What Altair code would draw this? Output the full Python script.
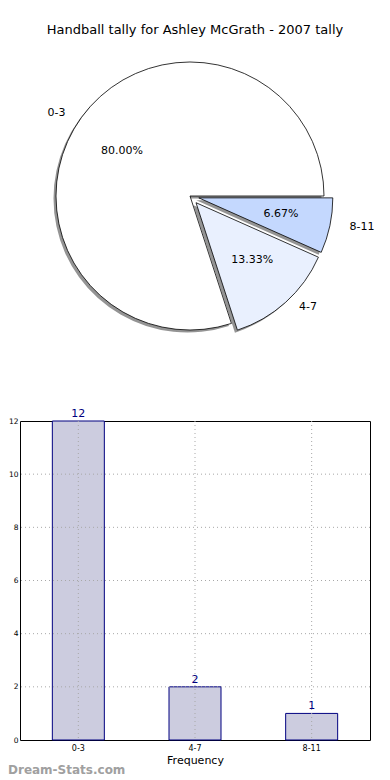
import altair as alt
import pandas as pd

title_text = "Handball tally for Ashley McGrath - 2007 tally"
cats = ["0-3", "4-7", "8-11"]
counts = [12, 2, 1]
pct_labels = ["80.00%", "13.33%", "6.67%"]
pie_colors = ["#ffffff", "#e9f0fe", "#c4d8fe"]
y_ticks = [0, 2, 4, 6, 8, 10, 12]

df = pd.DataFrame({"cat": cats, "count": counts, "pct": pct_labels, "order": [0, 1, 2]})
grid_df = pd.DataFrame({"v": y_ticks[1:-1]})

FONT = "DejaVu Sans"
CX, CY = 170, -225
RX, RY = 140, 128
GRID = "#a8a8a8"

pie_base = (
    alt.Chart(df)
    .transform_window(cum="sum(count)", sort=[alt.SortField("order")], frame=[None, 0])
    .transform_joinaggregate(total="sum(count)")
    .transform_calculate(
        a0="(datum.cum - datum.count) / datum.total * 2 * PI",
        a1="datum.cum / datum.total * 2 * PI",
    )
    .transform_calculate(am="(datum.a0 + datum.a1) / 2",
                         ex="datum.cat == '0-3' ? 0 : 9")
    .transform_calculate(
        cx=f"{CX} + datum.ex * cos(datum.am)",
        cy=f"{CY} - datum.ex * sin(datum.am)",
        t0="PI / 2 - datum.a0",
        t1="PI / 2 - datum.a1",
    )
    .transform_calculate(
        lx=f"datum.cx + 1.1 * {RX} * cos(datum.am)",
        ly=f"datum.cy - 1.1 * {RY} * sin(datum.am)",
        px=f"datum.cx + 0.6 * {RX} * cos(datum.am)",
        py=f"datum.cy - 0.6 * {RY} * sin(datum.am)",
    )
)

xc = alt.X("cx:Q", scale=None, axis=None)
yc = alt.Y("cy:Q", scale=None, axis=None)

shadow = pie_base.mark_arc(radius=134, xOffset=-2.5, yOffset=2.5, fill="#4d4d4d",
                           fillOpacity=0.6, stroke=None).encode(
    x=xc, y=yc,
    theta=alt.Theta("t0:Q", scale=None), theta2="t1:Q",
)

wedges = pie_base.mark_arc(radius=134, stroke="black", strokeWidth=0.8).encode(
    x=xc, y=yc,
    theta=alt.Theta("t0:Q", scale=None), theta2="t1:Q",
    color=alt.Color("cat:N", scale=alt.Scale(domain=cats, range=pie_colors), legend=None),
)

outer_left = pie_base.transform_filter("cos(datum.am) >= 0").mark_text(
    align="left", baseline="middle", font=FONT, fontSize=11, color="black"
).encode(x=alt.X("lx:Q", scale=None, axis=None), y=alt.Y("ly:Q", scale=None, axis=None), text="cat:N")

outer_right = pie_base.transform_filter("cos(datum.am) < 0").mark_text(
    align="right", baseline="middle", font=FONT, fontSize=11, color="black"
).encode(x=alt.X("lx:Q", scale=None, axis=None), y=alt.Y("ly:Q", scale=None, axis=None), text="cat:N")

pct = pie_base.mark_text(align="center", baseline="middle", font=FONT, fontSize=11, color="black").encode(
    x=alt.X("px:Q", scale=None, axis=None), y=alt.Y("py:Q", scale=None, axis=None), text="pct:N"
)

title = alt.Chart(pd.DataFrame({"t": [title_text]})).mark_text(
    align="center", baseline="middle", font=FONT, fontSize=13, color="black"
).encode(x=alt.value(175), y=alt.value(-391), text="t:N")

watermark = alt.Chart(pd.DataFrame({"t": ["Dream-Stats.com"]})).mark_text(
    align="left", baseline="middle", font=FONT, fontSize=12, fontWeight="bold", color="#a0a0a0"
).encode(x=alt.value(-12), y=alt.value(349), text="t:N")

x_enc = alt.X("cat:N", sort=cats,
              scale=alt.Scale(paddingInner=0, paddingOuter=0),
              axis=alt.Axis(title="Frequency", labelAngle=0, labelFontSize=8, labelFont=FONT,
                            titleFont=FONT, titleFontSize=11, titleFontWeight="normal",
                            titleColor="black", labelColor="black", grid=False,
                            domain=False, ticks=False, labelPadding=4, titlePadding=2))
y_enc = alt.Y("count:Q", scale=alt.Scale(domain=[0, 12], nice=False),
              axis=alt.Axis(title=None, values=y_ticks, format="d", labelFontSize=7.5, labelFont=FONT,
                            labelColor="black", grid=False,
                            domain=False, ticks=False, labelPadding=2))

bars = alt.Chart(df).mark_bar(size=52, fill="#ccccdf", stroke="#000080", strokeWidth=1).encode(
    x=x_enc, y=y_enc)

ygrid = alt.Chart(grid_df).mark_rule(color=GRID, strokeDash=[1, 3], strokeWidth=1).encode(
    y=alt.Y("v:Q"))
xgrid = alt.Chart(df).mark_rule(color=GRID, strokeDash=[1, 3], strokeWidth=1).encode(
    x=alt.X("cat:N", sort=cats))

bar_text = alt.Chart(df).mark_text(dy=-7, font=FONT, fontSize=11, color="#000080").encode(
    x=alt.X("cat:N", sort=cats), y=alt.Y("count:Q"), text="count:Q")

bar_layer = alt.layer(bars, ygrid, xgrid, bar_text)

chart = (
    alt.layer(shadow, wedges, outer_left, outer_right, pct, title, watermark, bar_layer)
    .resolve_scale(x="independent", y="independent")
    .properties(
        width=350, height=319,
        padding={"left": 12, "top": 413, "right": 12, "bottom": 40},
        autosize=alt.AutoSizeParams(type="none"),
    )
    .configure_view(stroke="black", strokeWidth=1)
)

chart.save("out.html", embed_options={"renderer": "svg", "actions": False})
